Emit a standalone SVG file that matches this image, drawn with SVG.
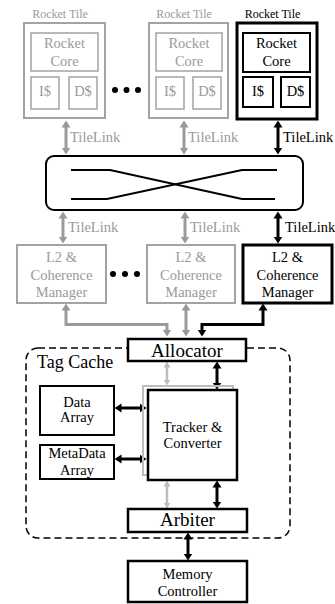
<svg xmlns="http://www.w3.org/2000/svg" width="335" height="604" viewBox="0 0 335 604">
<defs>
<style>
text{font-family:"Liberation Serif","Times New Roman",serif;text-anchor:middle}
.g{fill:#9a9a9a}
.k{fill:#000}
.lab{font-size:12px}
.t{font-size:14.5px}
.tl{font-size:14.5px;text-anchor:start}
.big{font-size:19px}
.gb{fill:#fff;stroke:#a3a3a3;stroke-width:2}
.gi{fill:#fff;stroke:#a3a3a3;stroke-width:1.5}
.kb{fill:#fff;stroke:#000;stroke-width:2.5}
.ki{fill:#fff;stroke:#000;stroke-width:2}
.ag{fill:none;stroke:#9a9a9a;stroke-width:3;marker-start:url(#hg);marker-end:url(#hg)}
.ak{fill:none;stroke:#000;stroke-width:3;marker-start:url(#hk);marker-end:url(#hk)}
.al{fill:none;stroke:#bdbdbd;stroke-width:2.5;marker-start:url(#hl);marker-end:url(#hl)}
</style>
<marker id="hg" markerUnits="userSpaceOnUse" markerWidth="10" markerHeight="10" viewBox="0 0 10 10" refX="0.5" refY="5" orient="auto-start-reverse"><path d="M0,0.5 L7,5 L0,9.5 z" fill="#9a9a9a"/></marker>
<marker id="hk" markerUnits="userSpaceOnUse" markerWidth="10" markerHeight="10" viewBox="0 0 10 10" refX="0.5" refY="5" orient="auto-start-reverse"><path d="M0,0.5 L7,5 L0,9.5 z" fill="#000"/></marker>
<marker id="hl" markerUnits="userSpaceOnUse" markerWidth="10" markerHeight="10" viewBox="0 0 10 10" refX="0.5" refY="5" orient="auto-start-reverse"><path d="M0,1.5 L6,5 L0,8.5 z" fill="#bdbdbd"/></marker>
</defs>

<g id="tagcache">
<rect x="26" y="348" width="264" height="190" rx="12" fill="none" stroke="#000" stroke-width="1.5" stroke-dasharray="7 4"/>
<text x="37" y="368" style="font-size:18px;text-anchor:start">Tag Cache</text>
</g>

<g id="connectors">
<path class="ag" d="M66,127 V148"/>
<path class="ag" d="M184,127 V148"/>
<path class="ak" d="M278,127 V148"/>
<path class="ag" d="M63,218 V237"/>
<path class="ag" d="M185,218 V237"/>
<path class="ak" d="M278,218 V237"/>
<path class="ag" d="M66,310 V324.5 H167 V330"/>
<path class="ag" d="M186,310 V330"/>
<path class="ak" d="M263,310 V324.5 H202 V330"/>
<path class="al" d="M167,367 V380"/>
<path class="ak" d="M217,368 V383"/>
<path class="ak" d="M121,408 H140"/>
<path class="ak" d="M121,459 H140"/>
<path class="al" d="M167,486 V503"/>
<path class="ak" d="M217,487 V502"/>
<path class="ak" d="M188,539 V554"/>
<text x="70" y="142" class="tl g">TileLink</text>
<text x="188" y="142" class="tl g">TileLink</text>
<text x="283" y="142" class="tl k">TileLink</text>
<text x="68" y="232" class="tl g">TileLink</text>
<text x="190" y="232" class="tl g">TileLink</text>
<text x="285" y="232" class="tl k">TileLink</text>
</g>

<g id="tile1">
<text x="60" y="18" class="lab g">Rocket Tile</text>
<rect class="gb" x="24" y="23" width="81" height="95"/>
<rect class="gi" x="31" y="33" width="67" height="38"/>
<text x="64.5" y="48" class="t g">Rocket</text>
<text x="64.5" y="66" class="t g">Core</text>
<rect class="gi" x="31" y="77" width="28" height="32"/>
<text x="45" y="96" class="t g">I$</text>
<rect class="gi" x="69" y="77" width="28" height="32"/>
<text x="83" y="96" class="t g">D$</text>
</g>

<g id="dots1">
<circle cx="115" cy="90" r="3"/><circle cx="126.5" cy="90" r="3"/><circle cx="138" cy="90" r="3"/>
</g>

<g id="tile2">
<text x="184" y="18" class="lab g">Rocket Tile</text>
<rect class="gb" x="149" y="23" width="79" height="95"/>
<rect class="gi" x="156" y="33" width="66" height="38"/>
<text x="189" y="48" class="t g">Rocket</text>
<text x="189" y="66" class="t g">Core</text>
<rect class="gi" x="156" y="77" width="28" height="32"/>
<text x="170" y="96" class="t g">I$</text>
<rect class="gi" x="193" y="77" width="28" height="32"/>
<text x="207" y="96" class="t g">D$</text>
</g>

<g id="tile3">
<text x="272.5" y="18" class="lab k">Rocket Tile</text>
<rect x="237" y="23" width="80" height="96" fill="#fff" stroke="#000" stroke-width="3"/>
<rect class="ki" x="243" y="33" width="67" height="39"/>
<text x="276.5" y="48" class="t k">Rocket</text>
<text x="276.5" y="66" class="t k">Core</text>
<rect class="ki" x="243" y="77" width="30" height="30"/>
<text x="258" y="96" class="t k">I$</text>
<rect class="ki" x="281" y="77" width="29" height="30"/>
<text x="295.5" y="96" class="t k">D$</text>
</g>

<g id="crossbar">
<rect x="46" y="156" width="257" height="54" rx="8" fill="#fff" stroke="#000" stroke-width="2"/>
<polyline points="71,170 110,170 242,199 275,199" fill="none" stroke="#000" stroke-width="2"/>
<polyline points="71,199 107,199 242,170 277,170" fill="none" stroke="#000" stroke-width="2"/>
</g>

<g id="l2a">
<rect class="gb" x="17" y="245" width="89" height="58"/>
<text x="61.5" y="262" class="t g">L2 &amp;</text>
<text x="61.5" y="279.5" class="t g">Coherence</text>
<text x="61.5" y="297" class="t g">Manager</text>
</g>

<g id="dots2">
<circle cx="113" cy="274" r="3"/><circle cx="125" cy="274" r="3"/><circle cx="137" cy="274" r="3"/>
</g>

<g id="l2b">
<rect class="gb" x="147" y="245" width="88" height="58"/>
<text x="191" y="262" class="t g">L2 &amp;</text>
<text x="191" y="279.5" class="t g">Coherence</text>
<text x="191" y="297" class="t g">Manager</text>
</g>

<g id="l2c">
<rect x="243" y="245" width="89" height="58" fill="#fff" stroke="#000" stroke-width="3"/>
<text x="287.5" y="262" class="t k">L2 &amp;</text>
<text x="287.5" y="279.5" class="t k">Coherence</text>
<text x="287.5" y="297" class="t k">Manager</text>
</g>

<g id="allocator">
<rect class="kb" x="128" y="339" width="118" height="22"/>
<text x="187" y="357" class="big k">Allocator</text>
</g>

<g id="dataarray">
<rect class="ki" x="40" y="386" width="74" height="49"/>
<text x="77" y="407" class="t k">Data</text>
<text x="77" y="422" class="t k">Array</text>
</g>

<g id="metadataarray">
<rect class="ki" x="40" y="445" width="74" height="34"/>
<text x="77" y="458" class="t k">MetaData</text>
<text x="77" y="475" class="t k">Array</text>
</g>

<g id="tracker">
<rect x="143" y="386" width="90" height="89" fill="none" stroke="#bdbdbd" stroke-width="2"/>
<rect class="kb" x="148" y="390" width="89" height="90"/>
<text x="192.5" y="432" class="t k">Tracker &amp;</text>
<text x="192.5" y="448" class="t k">Converter</text>
</g>

<g id="arbiter">
<rect class="kb" x="128" y="509" width="119" height="23"/>
<text x="187.5" y="526" class="big k">Arbiter</text>
</g>

<g id="memctrl">
<rect class="kb" x="128" y="561" width="119" height="41"/>
<text x="187.5" y="578.5" class="t k">Memory</text>
<text x="187.5" y="596" class="t k">Controller</text>
</g>
</svg>
